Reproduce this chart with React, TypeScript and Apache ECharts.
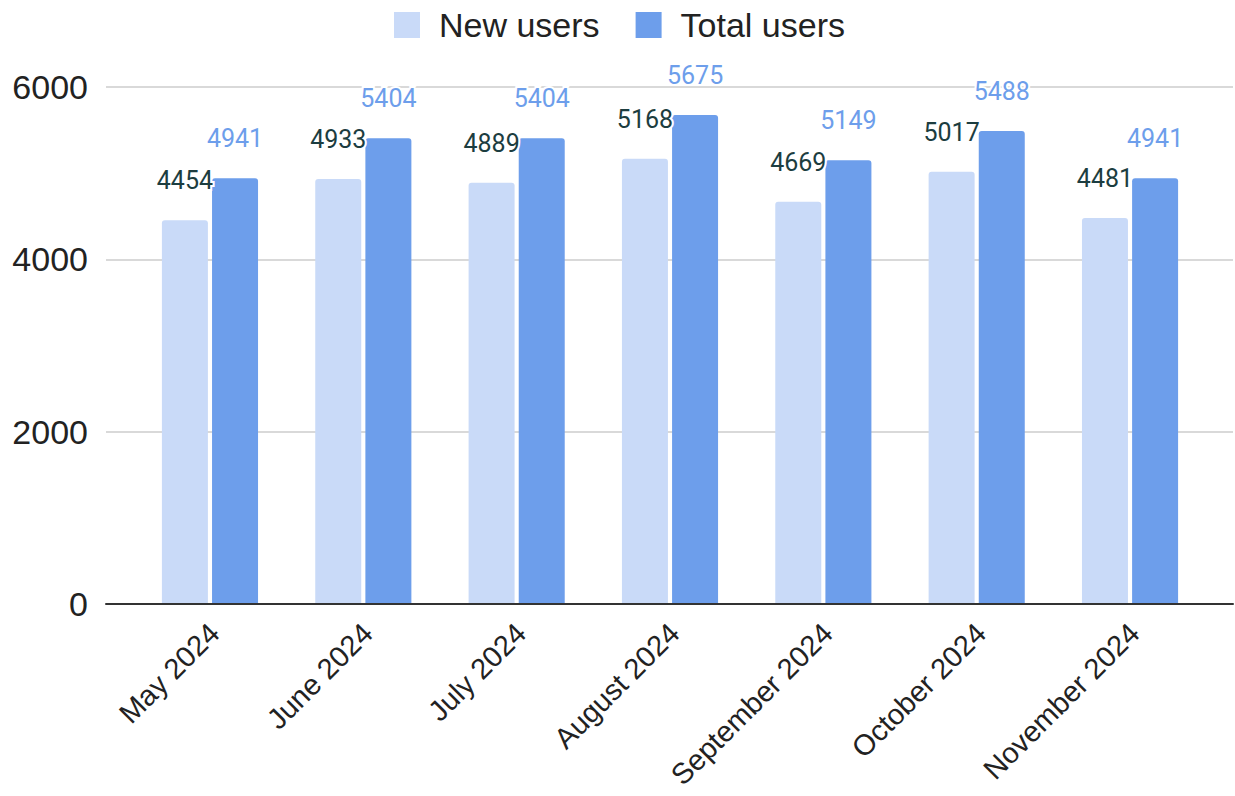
import React, { useEffect, useRef } from "react";
import * as echarts from "echarts";

const categories = ["May 2024", "June 2024", "July 2024", "August 2024", "September 2024", "October 2024", "November 2024"];
const newUsers = [4454, 4933, 4889, 5168, 4669, 5017, 4481];
const totalUsers = [4941, 5404, 5404, 5675, 5149, 5488, 4941];
const yTicks = { min: 0, max: 6000, interval: 2000 };

const NEW_COLOR = "#c9daf8";
const TOTAL_COLOR = "#6d9eeb";
const FONT = "'Liberation Sans', Arial, sans-serif";
const LABEL_FONT = "Roboto, 'Liberation Sans', Arial, sans-serif";

export default function App() {
  const ref = useRef<HTMLDivElement>(null);
  useEffect(() => {
    if (!ref.current) return;
    const chart = echarts.init(ref.current, undefined, { renderer: "svg" });
    const label = (color: string) => ({
      show: true,
      position: "top",
      distance: 27,
      color,
      fontSize: 25,
      fontFamily: LABEL_FONT,
      textBorderColor: "#ffffff",
      textBorderWidth: 4,
    });
    chart.setOption({
      animation: false,
      backgroundColor: "#ffffff",
      textStyle: { fontFamily: FONT },
      legend: {
        top: 8,
        left: 394,
        padding: 0,
        itemWidth: 26,
        itemHeight: 26,
        itemGap: 36,
        icon: "rect",
        itemStyle: { borderRadius: 2 },
        textStyle: { fontSize: 34, color: "#222222", fontFamily: FONT, padding: [0, 0, 0, 14] },
        data: ["New users", "Total users"],
      },
      grid: [
        { left: 106, right: 2, top: 87, bottom: 192, containLabel: false, outerBoundsMode: "none" },
        { left: 133.3, right: 28.3, top: 87, bottom: 192, containLabel: false, outerBoundsMode: "none" },
      ],
      xAxis: [
        {
          gridIndex: 0,
          type: "value",
          min: 0,
          max: 1,
          axisLine: { show: true, lineStyle: { color: "#333333", width: 2 } },
          axisTick: { show: false },
          axisLabel: { show: false },
          splitLine: { show: false },
          z: 5,
        },
        {
          gridIndex: 1,
          type: "category",
          data: categories,
          axisLine: { show: false },
          axisTick: { show: false },
          axisLabel: {
            interval: 0,
            rotate: 45,
            fontSize: 29,
            color: "#222222",
            margin: 20,
            fontFamily: FONT,
            formatter: (v: string) => `{c|${v}}`,
            rich: {
              c: { fontSize: 29, color: "#222222", fontFamily: FONT, padding: [12, 0, 0, 0] },
            },
          },
        },
      ],
      yAxis: [
        {
          gridIndex: 0,
          type: "value",
          min: yTicks.min,
          max: yTicks.max,
          interval: yTicks.interval,
          axisLine: { show: false },
          axisTick: { show: false },
          axisLabel: {
            fontSize: 34,
            color: "#222222",
            margin: 18,
            fontFamily: FONT,
            formatter: (v: number) => String(v),
          },
          splitLine: { lineStyle: { color: "#cccccc", width: 1.5 } },
        },
        {
          gridIndex: 1,
          type: "value",
          min: yTicks.min,
          max: yTicks.max,
          interval: yTicks.interval,
          show: false,
          splitLine: { show: false },
        },
      ],
      series: [
        {
          name: "New users",
          type: "bar",
          xAxisIndex: 1,
          yAxisIndex: 1,
          data: newUsers,
          barWidth: 46,
          barGap: "9%",
          itemStyle: { color: NEW_COLOR, borderRadius: [3, 3, 0, 0] },
          label: label("#1c3d40"),
          z: 3,
        },
        {
          name: "Total users",
          type: "bar",
          xAxisIndex: 1,
          yAxisIndex: 1,
          data: totalUsers,
          barWidth: 46,
          itemStyle: { color: TOTAL_COLOR, borderRadius: [3, 3, 0, 0] },
          label: label("#6d9eeb"),
          z: 2,
        },
      ],
    });
    return () => chart.dispose();
  }, []);
  return <div ref={ref} style={{ position: "fixed", left: 0, top: 0, width: 1235, height: 796 }} />;
}
